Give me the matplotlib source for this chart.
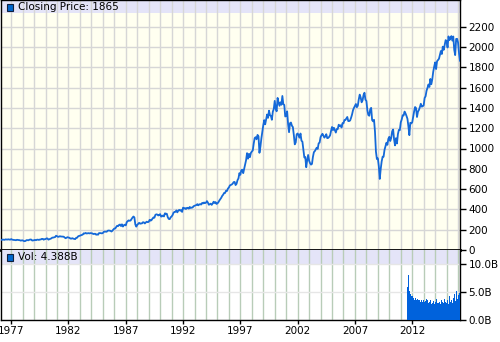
import matplotlib.pyplot as plt
from matplotlib.patches import Rectangle
from matplotlib.ticker import MultipleLocator, FixedLocator
import numpy as np

# monthly closes of the index, Jan 1976 .. Jan 2016, plus the last close
close = {
    1976: [100.9, 99.7, 102.8, 101.6, 100.2, 104.3, 103.4, 102.9, 105.2, 102.9, 102.1, 107.5],
    1977: [102.0, 99.8, 98.4, 98.4, 96.1, 100.5, 98.9, 96.8, 96.5, 92.3, 94.8, 95.1],
    1978: [89.3, 87.0, 89.2, 97.0, 97.2, 95.5, 100.7, 103.3, 102.5, 93.2, 94.7, 96.1],
    1979: [99.9, 96.3, 101.6, 101.8, 99.1, 102.9, 103.8, 109.3, 109.3, 101.8, 106.2, 107.9],
    1980: [114.2, 113.7, 102.1, 106.3, 111.2, 114.2, 121.7, 122.4, 125.5, 127.5, 140.5, 135.8],
    1981: [129.6, 131.3, 136.0, 132.8, 132.6, 131.2, 130.9, 122.8, 116.2, 121.9, 126.4, 122.6],
    1982: [120.4, 113.1, 112.0, 116.4, 111.9, 109.6, 107.1, 119.5, 120.4, 133.7, 138.5, 140.6],
    1983: [145.3, 148.1, 153.0, 164.4, 162.4, 168.1, 162.6, 164.4, 166.1, 163.6, 166.4, 164.9],
    1984: [163.4, 157.1, 159.2, 160.1, 150.6, 153.2, 150.7, 166.7, 166.1, 166.1, 163.6, 167.2],
    1985: [179.6, 181.2, 180.7, 179.8, 189.6, 191.9, 190.9, 188.6, 182.1, 189.8, 202.2, 211.3],
    1986: [211.8, 226.9, 238.9, 235.5, 247.4, 250.8, 236.1, 252.9, 231.3, 244.0, 249.2, 242.2],
    1987: [274.1, 284.2, 291.7, 288.4, 290.1, 304.0, 318.7, 329.8, 321.8, 251.8, 230.3, 247.1],
    1988: [257.1, 267.8, 258.9, 261.3, 262.2, 273.5, 272.0, 261.5, 271.9, 279.0, 273.7, 277.7],
    1989: [297.5, 288.9, 294.9, 309.6, 320.5, 318.0, 346.1, 351.5, 349.2, 340.4, 346.0, 353.4],
    1990: [329.1, 331.9, 339.9, 330.8, 361.2, 358.0, 356.2, 322.6, 306.1, 304.0, 322.2, 330.2],
    1991: [343.9, 367.1, 375.2, 375.3, 389.8, 371.2, 387.8, 395.4, 387.9, 392.5, 375.2, 417.1],
    1992: [408.8, 412.7, 403.7, 415.0, 415.4, 408.1, 424.2, 414.0, 417.8, 418.7, 431.4, 435.7],
    1993: [438.8, 443.4, 451.7, 440.2, 450.2, 450.5, 448.1, 463.6, 458.9, 467.8, 461.8, 466.5],
    1994: [481.6, 467.1, 445.8, 450.9, 456.5, 444.3, 458.3, 475.5, 462.7, 472.4, 454.0, 459.3],
    1995: [470.4, 487.4, 500.7, 514.7, 533.4, 544.8, 562.1, 561.9, 584.4, 581.5, 605.4, 615.9],
    1996: [636.0, 640.4, 645.5, 654.2, 669.1, 670.6, 639.9, 652.0, 687.3, 705.3, 757.0, 740.7],
    1997: [786.2, 790.8, 757.1, 801.3, 848.3, 885.1, 954.3, 899.5, 947.3, 914.6, 955.4, 970.4],
    1998: [980.3, 1049.3, 1101.8, 1111.8, 1090.8, 1133.8, 1120.7, 957.3, 1017.0, 1098.7, 1163.6, 1229.2],
    1999: [1279.6, 1238.3, 1286.4, 1335.2, 1301.8, 1372.7, 1328.7, 1320.4, 1282.7, 1362.9, 1389.0, 1469.3],
    2000: [1394.5, 1366.4, 1498.6, 1452.4, 1420.6, 1454.6, 1430.8, 1517.7, 1436.5, 1429.4, 1315.2, 1320.3],
    2001: [1366.0, 1239.9, 1160.3, 1249.5, 1256.0, 1224.4, 1211.2, 1133.6, 1040.9, 1059.8, 1139.5, 1148.1],
    2002: [1130.2, 1106.7, 1147.4, 1076.9, 1067.1, 989.8, 911.6, 916.1, 815.3, 885.8, 936.3, 879.8],
    2003: [855.7, 841.2, 848.2, 916.9, 963.6, 974.5, 990.3, 1008.0, 996.0, 1050.7, 1058.2, 1111.9],
    2004: [1131.1, 1144.9, 1126.2, 1107.3, 1120.7, 1140.8, 1101.7, 1104.2, 1114.6, 1130.2, 1173.8, 1211.9],
    2005: [1181.3, 1203.6, 1180.6, 1156.9, 1191.5, 1191.3, 1234.2, 1220.3, 1228.8, 1207.0, 1249.5, 1248.3],
    2006: [1280.1, 1280.7, 1294.9, 1310.6, 1270.1, 1270.2, 1276.7, 1303.8, 1335.9, 1377.9, 1400.6, 1418.3],
    2007: [1438.2, 1406.8, 1420.9, 1482.4, 1530.6, 1503.4, 1455.3, 1474.0, 1526.8, 1549.4, 1481.1, 1468.4],
    2008: [1378.6, 1330.6, 1322.7, 1385.6, 1400.4, 1280.0, 1267.4, 1282.8, 1166.4, 968.8, 896.2, 903.3],
    2009: [825.9, 700.0, 797.9, 872.8, 919.1, 919.3, 987.5, 1020.6, 1057.1, 1036.2, 1095.6, 1115.1],
    2010: [1073.9, 1104.5, 1169.4, 1186.7, 1089.4, 1030.7, 1101.6, 1049.3, 1141.2, 1183.3, 1180.6, 1257.6],
    2011: [1286.1, 1327.2, 1325.8, 1363.6, 1345.2, 1320.6, 1292.3, 1218.9, 1131.4, 1253.3, 1247.0, 1257.6],
    2012: [1312.4, 1365.7, 1408.5, 1397.9, 1310.3, 1362.2, 1379.3, 1406.6, 1440.7, 1412.2, 1416.2, 1426.2],
    2013: [1498.1, 1514.7, 1569.2, 1597.6, 1630.7, 1606.3, 1685.7, 1633.0, 1681.6, 1756.5, 1805.8, 1848.4],
    2014: [1782.6, 1859.5, 1872.3, 1884.0, 1923.6, 1960.2, 1930.7, 2003.4, 1972.3, 2018.1, 2067.6, 2058.9],
    2015: [1995.0, 2104.5, 2067.9, 2085.5, 2107.4, 2063.1, 2103.8, 1972.2, 1920.0, 2079.4, 2080.4, 2043.9],
    2016: [1940.2, 1864.8],
}

# monthly volume in billions, Aug 2011 .. Feb 2016
vol_start = 2011 + 7 / 12
volume = [5.9, 8.0, 5.2, 4.6, 4.2, 4.3, 3.9, 3.6, 4.0, 3.5,
          3.7, 3.5, 3.6, 3.3, 3.5, 3.2, 3.6, 3.3, 3.4, 3.8,
          3.2, 3.5, 3.0, 3.3, 3.6, 2.9, 3.1, 3.4, 2.8, 3.2,
          3.7, 3.1, 3.0, 3.3, 2.9, 3.5, 3.2, 3.0, 3.8, 3.3,
          3.1, 3.6, 2.9, 3.4, 4.2, 3.2, 3.5, 3.0, 3.9, 4.6,
          3.4, 5.1, 3.8, 4.5, 4.9]

price_ticks = list(range(0, 2201, 200))
vol_ticks = [0, 5, 10]
vol_labels = ["0.0B", "5.0B", "10.0B"]
year_labels = list(range(1977, 2013, 5))

t, p = [], []
for yr, vals in close.items():
    for m, v in enumerate(vals):
        t.append(yr + (m + 1) / 12)
        p.append(v)

W, H = 500, 342
fig = plt.figure(figsize=(W / 100, H / 100), dpi=100)
fig.patch.set_facecolor("white")
ax = fig.add_axes([1 / W, 92 / H, 459 / W, 250 / H])
axv = fig.add_axes([1 / W, 22 / H, 459 / W, 70 / H], sharex=ax)

blue = "#1569d8"
band = "#e4e4f8"

# price panel
ax.set_facecolor("#fffff0")
ax.plot(t, p, color=blue, lw=1.3, zorder=3)
ax.set_xlim(1976.11, 2016.17)
ax.set_ylim(0, 250 / 0.1015)
ax.add_patch(Rectangle((0, 1 - 13 / 250), 1, 13 / 250, transform=ax.transAxes,
                       color=band, zorder=0.5, lw=0))
ax.yaxis.set_major_locator(FixedLocator(price_ticks))
ax.yaxis.tick_right()
ax.tick_params(axis="y", direction="out", length=4, width=1, labelsize=7.5, pad=2)
ax.tick_params(axis="x", which="both", bottom=False, labelbottom=False)
ax.xaxis.set_major_locator(FixedLocator(year_labels))
ax.xaxis.set_minor_locator(MultipleLocator(1))
ax.grid(True, which="both", color="#d6d6d6", lw=1, zorder=1)
ax.set_axisbelow(True)
for s in ax.spines.values():
    s.set_color("black")
    s.set_linewidth(1)
ax.spines["bottom"].set_linewidth(2)

ax.add_patch(Rectangle((6 / 459, 1 - 11 / 250), 6 / 459, 7 / 250, transform=ax.transAxes,
                       facecolor="#0066cc", edgecolor="#102040", lw=0.8, zorder=5))
ax.text(17 / 459, 1 - 7.5 / 250, "Closing Price: 1865", transform=ax.transAxes,
        fontsize=7.5, va="center", ha="left", zorder=5)

# volume panel
axv.set_facecolor("white")
axv.bar([vol_start + i / 12 for i in range(len(volume))], volume, width=1 / 12,
        align="edge", color="#0062dc", lw=0, zorder=3)
axv.set_ylim(0, 70 / 5.6)
axv.add_patch(Rectangle((0, 10), 1, 70 / 5.6 - 10, transform=axv.get_yaxis_transform(),
                        color=band, zorder=0.5, lw=0))
axv.yaxis.set_major_locator(FixedLocator(vol_ticks))
axv.set_yticklabels(vol_labels)
axv.yaxis.tick_right()
axv.tick_params(axis="y", direction="out", length=4, width=1, labelsize=7.5, pad=2)
axv.xaxis.set_major_locator(FixedLocator(year_labels))
axv.xaxis.set_minor_locator(MultipleLocator(1))
axv.set_xticklabels([str(y) for y in year_labels])
axv.tick_params(axis="x", which="major", direction="out", length=3, width=1,
                labelsize=7.5, pad=1)
axv.tick_params(axis="x", which="minor", length=0)
axv.grid(True, axis="x", which="both", color="#b8ccb8", lw=1, zorder=1)
axv.grid(True, axis="y", which="major", color="#e6e6e6", lw=1, zorder=1)
axv.set_axisbelow(True)
for s in axv.spines.values():
    s.set_color("black")
    s.set_linewidth(1)
axv.spines["top"].set_visible(False)

axv.add_patch(Rectangle((6 / 459, 1 - 11 / 70), 6 / 459, 7 / 70, transform=axv.transAxes,
                        facecolor="#0066cc", edgecolor="#102040", lw=0.8, zorder=5))
axv.text(17 / 459, 1 - 7.5 / 70, "Vol: 4.388B", transform=axv.transAxes,
         fontsize=7.5, va="center", ha="left", zorder=5)

fig.savefig("out.png", dpi=100)
